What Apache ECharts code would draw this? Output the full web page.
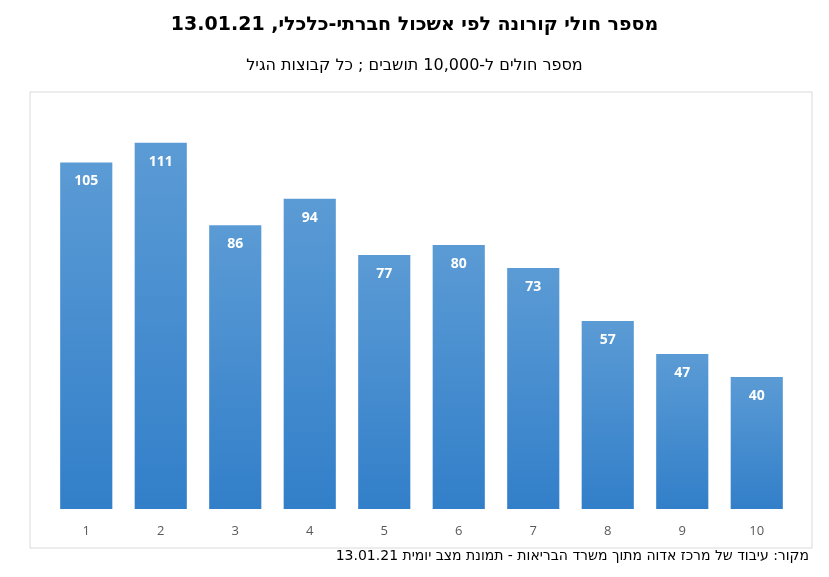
<!DOCTYPE html>
<html><head><meta charset="utf-8">
<script src="https://cdn.jsdelivr.net/npm/echarts@6/dist/echarts.min.js"></script>
<style>html,body{margin:0;padding:0;background:#fff}#c{width:829px;height:577px}</style>
</head><body><div id="c"></div>
<script>
const categories = ['1','2','3','4','5','6','7','8','9','10'];
const values = [105,111,86,94,77,80,73,57,47,40];
const titleText = 'מספר חולי קורונה לפי אשכול חברתי-כלכלי, 13.01.21';
const subtitleText = 'מספר חולים ל-10,000 תושבים ; כל קבוצות הגיל';
const footerText = 'מקור: עיבוד של מרכז אדוה מתוך משרד הבריאות - תמונת מצב יומית 13.01.21';
const chart = echarts.init(document.getElementById('c'));
chart.setOption({
  animation:false,
  graphic:[
    {type:'rect',shape:{x:30,y:92,width:782,height:456},style:{fill:'none',stroke:'#d9d9d9',lineWidth:1}},
    {type:'text',left:'center',top:16,style:{text:titleText,font:'bold 19px "DejaVu Sans", sans-serif',fill:'#000'}},
    {type:'text',left:'center',top:58,style:{text:subtitleText,font:'16px "DejaVu Sans", sans-serif',fill:'#000'}},
    {type:'text',right:20,top:549,style:{text:footerText,font:'14px "DejaVu Sans", sans-serif',fill:'#000'}}
  ],
  grid:{left:49,right:35,top:113,bottom:68},
  xAxis:{type:'category',data:categories,axisLine:{show:false},axisTick:{show:false},
    axisLabel:{color:'#595959',fontSize:13,margin:16,fontFamily:'Open Sans'}},
  yAxis:{type:'value',min:0,max:120,show:false,splitLine:{show:false}},
  series:[{type:'bar',data:values,barWidth:'70%',
    itemStyle:{color:new echarts.graphic.LinearGradient(0,0,0,1,[{offset:0,color:'#5b9bd5'},{offset:1,color:'#327fc9'}])},
    label:{show:true,position:'insideTop',distance:12,color:'#fff',fontWeight:'bold',fontSize:14,fontFamily:'Open Sans'}}]
});
</script></body></html>
